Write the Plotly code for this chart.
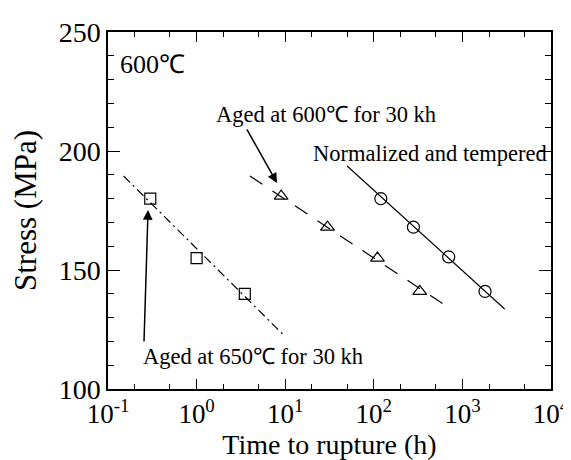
import plotly.graph_objects as go
import numpy as np

# Data
aged650_time = [0.3, 1.0, 3.5]
aged650_stress = [180, 155, 140]
aged600_time = [9, 30, 110, 330]
aged600_stress = [181, 168, 155, 141]
nt_time = [120, 280, 700, 1800]
nt_stress = [180, 168, 155.5, 141]

# Fitted lines (end points)
aged650_fit_time = [0.15, 10]
aged650_fit_stress = [189.5, 122]
aged600_fit_time = [4.0, 740]
aged600_fit_stress = [189.5, 133.6]
nt_fit_time = [50, 3000]
nt_fit_stress = [193.7, 133.6]

x_tickvals = [0.1, 1, 10, 100, 1000, 10000]
x_ticktext = ["10<sup>-1</sup>", "10<sup>0</sup>", "10<sup>1</sup>", "10<sup>2</sup>", "10<sup>3</sup>", "10<sup>4</sup>"]
y_tickvals = [100, 150, 200, 250]

FONT = "Liberation Serif, Times New Roman, serif"

fig = go.Figure()
fig.add_trace(go.Scatter(x=aged650_fit_time, y=aged650_fit_stress, mode="lines",
                         line=dict(color="black", width=1.2, dash="9px,4px,2px,4px"), showlegend=False))
fig.add_trace(go.Scatter(x=aged600_fit_time, y=aged600_fit_stress, mode="lines",
                         line=dict(color="black", width=1.2, dash="15px,12px"), showlegend=False))
fig.add_trace(go.Scatter(x=nt_fit_time, y=nt_fit_stress, mode="lines",
                         line=dict(color="black", width=1.2), showlegend=False))
fig.add_trace(go.Scatter(x=aged650_time, y=aged650_stress, mode="markers",
                         marker=dict(symbol="square-open", size=11, color="black", line=dict(width=1.2)),
                         showlegend=False))
fig.add_trace(go.Scatter(x=aged600_time, y=aged600_stress, mode="markers",
                         marker=dict(symbol="triangle-up-open", size=12, color="black", line=dict(width=1.2)),
                         showlegend=False))
fig.add_trace(go.Scatter(x=nt_time, y=nt_stress, mode="markers",
                         marker=dict(symbol="circle-open", size=12, color="black", line=dict(width=1.2)),
                         showlegend=False))

# Arrows (data coordinates; x in log10 units)
arrows = [
    (8.07, 186.6, 10 ** 0.558, 209.7),
    (10 ** -0.548, 175.2, 10 ** -0.594, 119.3),
]
for x, y, ax, ay in arrows:
    fig.add_annotation(x=np.log10(x), y=y, ax=np.log10(ax), ay=ay, xref="x", yref="y",
                       axref="x", ayref="y", text="", showarrow=True, arrowhead=2,
                       arrowsize=1.3, arrowwidth=1.5, arrowcolor="black")

texts = [
    ("600℃", 0.022, 0.91, 26),
    ("Aged at 600℃ for 30 kh", 0.239, 0.77, 22.5),
    ("Normalized and tempered", 0.458, 0.661, 22.5),
    ("Aged at 650℃ for 30 kh", 0.0745, 0.09, 22.5),
]
for t, x, y, s in texts:
    fig.add_annotation(x=x, y=y, xref="paper", yref="paper", text=t, showarrow=False,
                       xanchor="left", yanchor="middle", font=dict(family=FONT, size=s, color="black"))

fig.update_xaxes(type="log", range=[-1, 4], tickvals=x_tickvals, ticktext=x_ticktext,
                 ticks="inside", ticklen=10, tickwidth=1.2, tickcolor="black",
                 showline=True, linecolor="black", linewidth=1.5, mirror="allticks",
                 showgrid=False, zeroline=False, automargin=False,
                 minor=dict(ticks="inside", ticklen=5, tickwidth=1, tickcolor="black", showgrid=False),
                 tickfont=dict(family=FONT, size=27, color="black"),
                 title=dict(text="Time to rupture (h)", font=dict(family=FONT, size=28, color="black"), standoff=2))
fig.update_yaxes(range=[100, 250], tickvals=y_tickvals,
                 ticks="inside", ticklen=12, tickwidth=1.2, tickcolor="black",
                 showline=True, linecolor="black", linewidth=1.5, mirror="allticks",
                 showgrid=False, zeroline=False, automargin=False,
                 minor=dict(ticks="inside", ticklen=6, tickwidth=1, tickcolor="black", dtick=10, showgrid=False),
                 tickfont=dict(family=FONT, size=28, color="black"),
                 title=dict(text="Stress (MPa)", font=dict(family=FONT, size=31, color="black"), standoff=15))

fig.update_layout(width=571, height=460, margin=dict(l=100, r=28, t=24, b=79, autoexpand=False),
                  paper_bgcolor="white", plot_bgcolor="white", font=dict(family=FONT))
fig.write_html("out.html")
